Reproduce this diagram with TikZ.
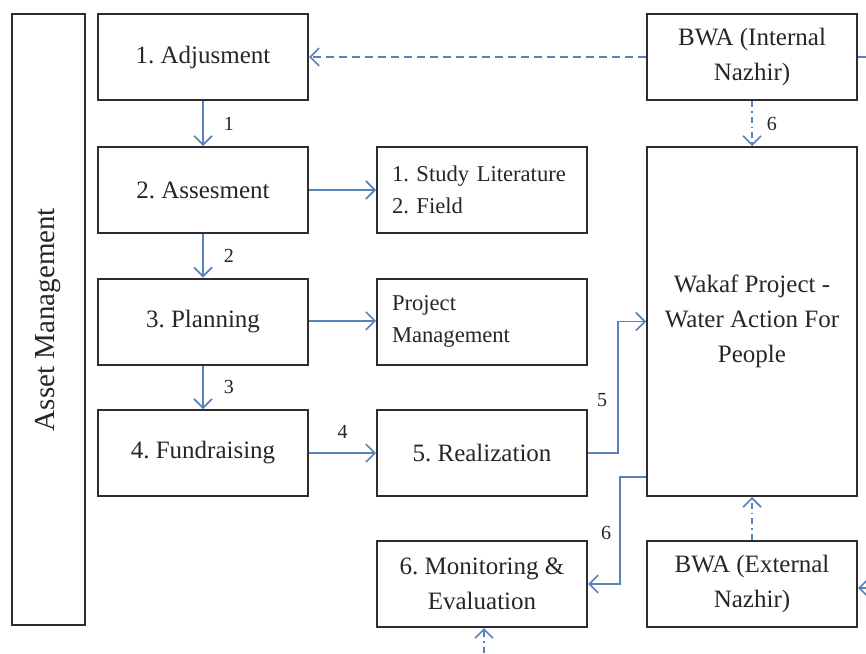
\documentclass[tikz,border=0pt]{standalone}
\usepackage{fontspec}
\setmainfont{Liberation Serif}
\frenchspacing
\usetikzlibrary{arrows.meta}
\definecolor{flowblue}{RGB}{88,130,186}
\definecolor{boxline}{RGB}{45,45,45}
\begin{document}
\begin{tikzpicture}
    [%%%%%%%%%%%%%%%%%%%%%%%%%%%%%%
        x=0.5pt, y=-0.5pt,
        box/.style={rectangle,draw=boxline,line width=1pt,fill=white,text=black!85,
            minimum width=105pt,minimum height=43pt,align=center,inner sep=2pt,
            font=\fontsize{12.5}{17.5}\selectfont},
        sidebox/.style={box,align=left,text width=90pt,inner xsep=7.5pt,
            font=\fontsize{11.3}{16}\selectfont},
        flow/.style={draw=flowblue,line width=0.8pt,-{Straight Barb[length=4.5pt,width=9pt]}},
        dashflow/.style={flow,dash pattern=on 4pt off 2.5pt},
        dotflow/.style={flow,dash pattern=on 3pt off 2pt on 0.8pt off 2pt},
        num/.style={text=black!85,font=\fontsize{10}{12}\selectfont,inner sep=1pt},
    ]%%%%%%%%%%%%%%%%%%%%%%%%%%%%%%
    \useasboundingbox (0,0) rectangle (866,653);

    \node[box, minimum width=36.5pt, minimum height=305.5pt] (asset) at (48.5,319.5)
        {\rotatebox{90}{\fontsize{14.5}{17}\selectfont Asset Management}};

    \node[box] (adjust) at (203,57) {1. Adjusment};
    \node[box] (assess) at (203,190) {2. Assesment};
    \node[box] (plan) at (203,321.5) {3. Planning};
    \node[box] (fund) at (203,453) {4. Fundraising};

    \node[sidebox] (study) at (482,190) {1. Study Literature\\2. Field};
    \node[sidebox] (pm) at (482,321.5) {Project\\Management};
    \node[box] (real) at (482,453) {5. Realization};
    \node[box] (monit) at (482,584) {6. Monitoring \&\\Evaluation};

    \node[box] (bwaint) at (752,57) {BWA (Internal\\Nazhir)};
    \node[box, minimum height=174.5pt] (wakaf) at (752,321.5)
        {Wakaf Project -\\Water Action For\\People};
    \node[box] (bwaext) at (752,584) {BWA (External\\Nazhir)};

    % free ends at the picture edge
    \coordinate (intR) at (866,57);
    \coordinate (extR) at (866,588);
    \coordinate (monB) at (484,653);

    % flow of the stages
    \draw[flow] (adjust) -- node[num, right=9pt] {1} (assess);
    \draw[flow] (assess) -- node[num, right=9pt] {2} (plan);
    \draw[flow] (plan) -- node[num, right=9pt] {3} (fund);
    \draw[flow] (fund) -- node[num, above=6pt] {4} (real);
    \draw[flow] (assess) -- (study);
    \draw[flow] ([yshift=0.3pt]plan.east) -- ([yshift=0.3pt]pm.west);
    \draw[flow] (real.east) -- ++(30,0) |- node[num, pos=0.2, left=4pt] {5} (wakaf.west);
    \draw[flow] ([yshift=10pt]wakaf.south west) -- ++(-26,0) |- node[num, pos=0.26, left=3pt] {6} (monit.east);

    % nazhir
    \draw[dashflow] (bwaint) -- (adjust);
    \draw[dashflow, -] (bwaint.east) -- (intR);
    \draw[dotflow] (bwaint) -- node[num, right=6pt] {6} (wakaf);
    \draw[dotflow] (bwaext) -- (wakaf);
    \draw[flow] (extR) -- ([yshift=-2pt]bwaext.east);
    \draw[dotflow] (monB) -- ([xshift=1pt]monit.south);
\end{tikzpicture}
\end{document}
